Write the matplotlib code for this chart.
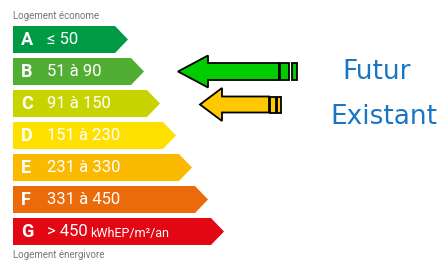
import matplotlib
matplotlib.use("Agg")
import matplotlib.pyplot as plt
from matplotlib.patches import Polygon, Rectangle

letters = ["A", "B", "C", "D", "E", "F", "G"]
ranges = ["≤ 50", "51 à 90", "91 à 150", "151 à 230", "231 à 330", "331 à 450", "> 450"]
colors = ["#009a44", "#52ae32", "#c8d400", "#ffe100", "#fbba00", "#eb6a0a", "#e30613"]
unit = "kWhEP/m²/an"
top_label = "Logement économe"
bottom_label = "Logement énergivore"
legend_labels = ["Futur", "Existant"]
arrow_colors = ["#00cc00", "#ffc800"]
arrow_classes = ["B", "C"]

W, H = 448, 260
fig = plt.figure(figsize=(W / 100, H / 100), dpi=100)
ax = fig.add_axes([0, 0, 1, 1])
ax.set_xlim(0, W)
ax.set_ylim(H, 0)
ax.axis("off")

x0 = 13
top0 = 26
pitch = 32
bh = 27
body0 = 115
step = 16
tip = 13

for i, (L, r, c) in enumerate(zip(letters, ranges, colors)):
    y = top0 + i * pitch
    xe = body0 + i * step
    poly = Polygon([(x0, y), (xe, y), (xe + tip, y + bh / 2), (xe, y + bh), (x0, y + bh)],
                   closed=True, facecolor=c, edgecolor="none")
    ax.add_patch(poly)
    ax.text(x0 + 8, y + bh / 2 + 0.5, L, color="white", fontsize=13, fontweight="bold",
            family="Roboto", va="center", ha="left")
    ax.text(x0 + 34, y + bh / 2 + 0.5, r, color="white", fontsize=12,
            family="Roboto", va="center", ha="left")
    if i == len(letters) - 1:
        ax.text(x0 + 77, y + bh / 2 + 1.5, unit, color="white", fontsize=9,
                family="Roboto", va="center", ha="left")

ax.text(x0, 16, top_label, color="#777777", fontsize=7, family="Roboto", va="center", ha="left")
ax.text(x0, 255, bottom_label, color="#777777", fontsize=7, family="Roboto", va="center", ha="left")

def draw_arrow(tipx, cy, headbase, shaft_end, shaft_h, head_h, s1, s2, color):
    pts = [(tipx, cy), (headbase, cy - head_h / 2), (headbase, cy - shaft_h / 2),
           (shaft_end, cy - shaft_h / 2), (shaft_end, cy + shaft_h / 2),
           (headbase, cy + shaft_h / 2), (headbase, cy + head_h / 2)]
    ax.add_patch(Polygon(pts, closed=True, facecolor=color, edgecolor="black", lw=1.3,
                         joinstyle="miter"))
    for (a, b) in (s1, s2):
        ax.add_patch(Rectangle((a, cy - shaft_h / 2), b - a, shaft_h, facecolor=color,
                               edgecolor="black", lw=1.3))

draw_arrow(178, 71.5, 208, 279, 17, 32, (280, 289), (292, 297), arrow_colors[0])
draw_arrow(200, 104.5, 222, 269, 16, 33, (270, 276), (277, 281), arrow_colors[1])

ax.text(342, 72, legend_labels[0], color="#1a75c2", fontsize=19, family="DejaVu Sans",
        va="center", ha="left")
ax.text(330, 117, legend_labels[1], color="#1a75c2", fontsize=19, family="DejaVu Sans",
        va="center", ha="left")

fig.savefig("out.png", dpi=100)
